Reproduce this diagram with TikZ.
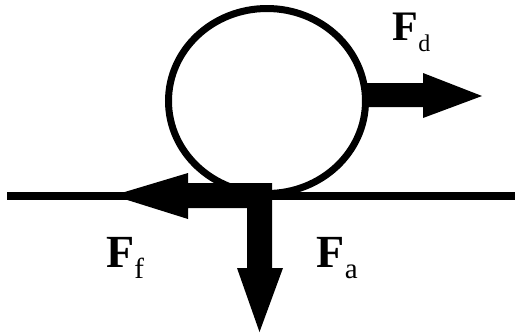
\documentclass[tikz,border=0pt]{standalone}
\usepackage{fontspec}
\setmainfont{Liberation Serif}
\newcommand\forcesub[3]{\raisebox{#1}{\fontsize{#2}{#2}\selectfont #3}}
\begin{document}
\begin{tikzpicture}[x=1pt,y=-1pt,
  forcearrow/.style={fill=black,draw=none},
  lbl/.style={anchor=base west,inner sep=0pt}]
\useasboundingbox (0,0) rectangle (515,333);
% ground
\coordinate (gL) at (7,196);
\coordinate (gR) at (515,196);
\draw[line width=8pt] (gL) -- (gR);
% body
\draw[line width=7pt] (267,101) ellipse [x radius=98.5, y radius=92.5];
% friction and adhesion forces (L-shaped)
\fill[forcearrow] (272,183) -- (272,268) -- (283,268) -- (259.5,332) -- (237,268) -- (247,268)
  -- (247,208) -- (188,208) -- (188,219) -- (113,195.5) -- (188,173) -- (188,183) -- cycle;
% drag force
\fill[forcearrow] (363,83) -- (423,83) -- (423,73) -- (482,96) -- (423,118) -- (423,107) -- (363,107) -- cycle;
% labels
\node[lbl,font=\fontsize{42}{42}\selectfont] (Fd) at (392.5,40) {\textbf{F}\forcesub{-11.5pt}{24}{d}};
\node[lbl,font=\fontsize{46}{46}\selectfont] (Ff) at (106,267) {\textbf{F}\forcesub{-11pt}{29}{f}};
\node[lbl,font=\fontsize{46}{46}\selectfont] (Fa) at (316.5,267) {\textbf{F}\forcesub{-11pt}{29}{a}};
\end{tikzpicture}
\end{document}
